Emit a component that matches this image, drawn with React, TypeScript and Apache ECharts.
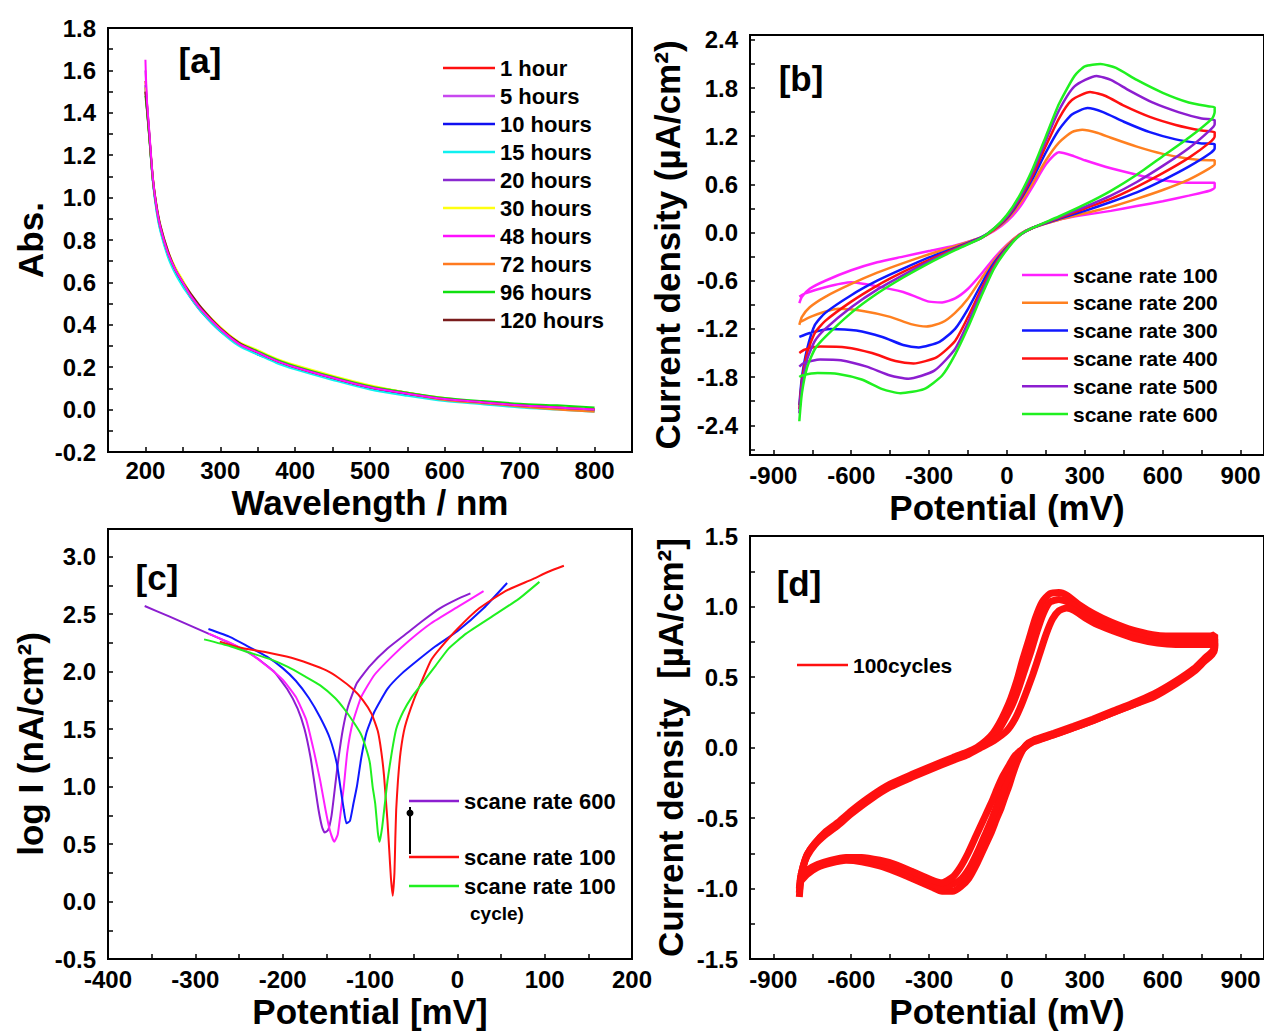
import React, { useEffect, useRef } from "react";
import * as echarts from "echarts";

// ---------------- Panel [a] : UV-Vis absorbance ----------------
const wavelength = [200, 202, 205, 210, 215, 220, 230, 240, 250, 260, 275, 300, 325, 350, 375, 400, 450, 500, 550, 600, 650, 700, 750, 800];
const abs1h = [1.55, 1.45, 1.31, 1.09, 0.95, 0.86, 0.74, 0.66, 0.6, 0.54, 0.47, 0.38, 0.31, 0.27, 0.23, 0.2, 0.15, 0.11, 0.08, 0.05, 0.035, 0.02, 0.01, 0.0];
const abs5h = [1.6, 1.45, 1.31, 1.08, 0.95, 0.85, 0.74, 0.66, 0.6, 0.54, 0.47, 0.38, 0.31, 0.27, 0.23, 0.2, 0.15, 0.105, 0.075, 0.05, 0.035, 0.02, 0.01, 0.0];
const abs10h = [1.52, 1.43, 1.3, 1.08, 0.94, 0.85, 0.73, 0.65, 0.59, 0.53, 0.46, 0.37, 0.31, 0.26, 0.23, 0.195, 0.145, 0.1, 0.07, 0.045, 0.03, 0.015, 0.005, -0.005];
const abs15h = [1.5, 1.42, 1.29, 1.07, 0.93, 0.84, 0.72, 0.64, 0.58, 0.53, 0.46, 0.37, 0.3, 0.26, 0.22, 0.19, 0.14, 0.095, 0.065, 0.04, 0.025, 0.01, 0.0, -0.01];
const abs20h = [1.53, 1.44, 1.3, 1.08, 0.95, 0.86, 0.74, 0.66, 0.6, 0.54, 0.47, 0.38, 0.31, 0.27, 0.23, 0.2, 0.15, 0.105, 0.075, 0.05, 0.035, 0.02, 0.01, 0.0];
const abs30h = [1.52, 1.43, 1.3, 1.09, 0.96, 0.87, 0.75, 0.67, 0.61, 0.55, 0.48, 0.39, 0.32, 0.28, 0.24, 0.21, 0.16, 0.115, 0.08, 0.055, 0.035, 0.02, 0.01, 0.0];
const abs48h = [1.65, 1.46, 1.32, 1.09, 0.95, 0.86, 0.74, 0.66, 0.6, 0.54, 0.47, 0.38, 0.31, 0.27, 0.23, 0.2, 0.15, 0.105, 0.075, 0.05, 0.035, 0.02, 0.01, 0.0];
const abs72h = [1.5, 1.42, 1.29, 1.08, 0.95, 0.86, 0.74, 0.66, 0.6, 0.54, 0.47, 0.38, 0.31, 0.27, 0.23, 0.2, 0.15, 0.105, 0.075, 0.045, 0.03, 0.015, 0.0, -0.01];
const abs96h = [1.48, 1.41, 1.29, 1.08, 0.95, 0.86, 0.74, 0.66, 0.6, 0.54, 0.47, 0.38, 0.315, 0.275, 0.235, 0.205, 0.155, 0.11, 0.08, 0.055, 0.04, 0.028, 0.02, 0.01];
const abs120h = [1.5, 1.42, 1.3, 1.09, 0.96, 0.87, 0.75, 0.66, 0.6, 0.55, 0.48, 0.385, 0.315, 0.27, 0.23, 0.2, 0.15, 0.105, 0.075, 0.05, 0.035, 0.02, 0.01, 0.0];
const aNames = ["1 hour", "5 hours", "10 hours", "15 hours", "20 hours", "30 hours", "48 hours", "72 hours", "96 hours", "120 hours"];
const aValues = [abs1h, abs5h, abs10h, abs15h, abs20h, abs30h, abs48h, abs72h, abs96h, abs120h];
const aXTicks = [200, 250, 300, 350, 400, 450, 500, 550, 600, 650, 700, 750, 800];
const aXLabels = [200, 300, 400, 500, 600, 700, 800];
const aYTicks = [-0.2, -0.1, 0, 0.1, 0.2, 0.3, 0.4, 0.5, 0.6, 0.7, 0.8, 0.9, 1.0, 1.1, 1.2, 1.3, 1.4, 1.5, 1.6, 1.7, 1.8];
const aYLabels = [-0.2, 0, 0.2, 0.4, 0.6, 0.8, 1.0, 1.2, 1.4, 1.6, 1.8];

// ---------------- Panel [b] : CV at different scan rates ----------------
const cvRate100 = [[-800, -0.88], [-790, -0.8], [-760, -0.7], [-700, -0.6], [-600, -0.47], [-500, -0.37], [-400, -0.3], [-300, -0.23], [-200, -0.16], [-100, -0.06], [-50, 0.02], [0, 0.14], [50, 0.32], [100, 0.58], [150, 0.85], [200, 1.0], [250, 0.96], [300, 0.9], [400, 0.8], [500, 0.72], [600, 0.65], [700, 0.62], [780, 0.62], [800, 0.62],
  [800, 0.56], [780, 0.52], [700, 0.46], [600, 0.39], [500, 0.33], [400, 0.27], [300, 0.22], [200, 0.16], [100, 0.06], [50, -0.02], [0, -0.15], [-50, -0.32], [-100, -0.52], [-150, -0.7], [-200, -0.82], [-250, -0.87], [-300, -0.86], [-350, -0.8], [-400, -0.74], [-500, -0.67], [-600, -0.62], [-700, -0.68], [-780, -0.76], [-800, -0.8]];
const cvRate200 = [[-800, -1.15], [-790, -1.05], [-760, -0.93], [-700, -0.8], [-600, -0.64], [-500, -0.5], [-400, -0.38], [-300, -0.27], [-200, -0.17], [-100, -0.06], [-50, 0.03], [0, 0.16], [50, 0.36], [100, 0.62], [150, 0.9], [200, 1.12], [250, 1.25], [290, 1.28], [350, 1.24], [400, 1.18], [500, 1.07], [600, 0.98], [700, 0.92], [780, 0.9], [800, 0.9],
  [800, 0.85], [780, 0.8], [700, 0.66], [600, 0.53], [500, 0.42], [400, 0.32], [300, 0.24], [200, 0.16], [100, 0.06], [50, -0.02], [0, -0.16], [-50, -0.35], [-100, -0.58], [-150, -0.82], [-200, -1.0], [-250, -1.12], [-310, -1.17], [-370, -1.14], [-450, -1.05], [-550, -0.98], [-650, -0.95], [-750, -1.04], [-800, -1.12]];
const cvRate300 = [[-800, -2.15], [-790, -1.8], [-770, -1.45], [-740, -1.15], [-700, -1.0], [-600, -0.78], [-500, -0.6], [-400, -0.45], [-300, -0.31], [-200, -0.19], [-100, -0.06], [-50, 0.04], [0, 0.18], [50, 0.4], [100, 0.68], [150, 1.0], [200, 1.28], [250, 1.47], [310, 1.55], [370, 1.5], [450, 1.38], [550, 1.25], [650, 1.16], [750, 1.11], [800, 1.1],
  [800, 1.05], [780, 0.98], [700, 0.82], [600, 0.65], [500, 0.5], [400, 0.38], [300, 0.27], [200, 0.17], [100, 0.06], [50, -0.03], [0, -0.18], [-50, -0.38], [-100, -0.65], [-150, -0.95], [-200, -1.2], [-260, -1.36], [-340, -1.43], [-400, -1.4], [-480, -1.3], [-580, -1.22], [-680, -1.2], [-760, -1.25], [-800, -1.3]];
const cvRate400 = [[-800, -2.2], [-790, -1.85], [-770, -1.5], [-740, -1.25], [-700, -1.1], [-600, -0.86], [-500, -0.66], [-400, -0.49], [-300, -0.34], [-200, -0.2], [-100, -0.07], [-50, 0.04], [0, 0.19], [50, 0.42], [100, 0.72], [150, 1.08], [200, 1.42], [250, 1.65], [320, 1.75], [380, 1.7], [450, 1.58], [550, 1.44], [650, 1.34], [750, 1.27], [800, 1.25],
  [800, 1.2], [780, 1.12], [700, 0.93], [600, 0.74], [500, 0.57], [400, 0.42], [300, 0.3], [200, 0.18], [100, 0.06], [50, -0.03], [0, -0.19], [-50, -0.41], [-100, -0.71], [-150, -1.05], [-200, -1.35], [-270, -1.55], [-360, -1.63], [-430, -1.6], [-520, -1.5], [-620, -1.43], [-720, -1.42], [-780, -1.46], [-800, -1.5]];
const cvRate500 = [[-800, -2.25], [-790, -1.9], [-770, -1.58], [-740, -1.35], [-700, -1.2], [-600, -0.93], [-500, -0.71], [-400, -0.53], [-300, -0.36], [-200, -0.21], [-100, -0.07], [-50, 0.05], [0, 0.2], [50, 0.44], [100, 0.76], [150, 1.15], [200, 1.52], [260, 1.82], [345, 1.95], [400, 1.9], [470, 1.77], [560, 1.62], [660, 1.5], [750, 1.42], [800, 1.4],
  [800, 1.35], [780, 1.27], [700, 1.05], [600, 0.83], [500, 0.63], [400, 0.46], [300, 0.32], [200, 0.19], [100, 0.06], [50, -0.03], [0, -0.2], [-50, -0.43], [-100, -0.75], [-150, -1.12], [-200, -1.45], [-280, -1.72], [-380, -1.82], [-450, -1.78], [-540, -1.67], [-640, -1.59], [-720, -1.58], [-780, -1.62], [-800, -1.67]];
const cvRate600 = [[-800, -2.35], [-790, -2.0], [-770, -1.68], [-740, -1.45], [-700, -1.3], [-600, -1.0], [-500, -0.76], [-400, -0.56], [-300, -0.38], [-200, -0.22], [-100, -0.07], [-50, 0.05], [0, 0.22], [50, 0.47], [100, 0.8], [150, 1.2], [200, 1.6], [260, 1.95], [300, 2.07], [360, 2.1], [420, 2.05], [500, 1.9], [600, 1.74], [700, 1.62], [780, 1.57], [800, 1.56],
  [800, 1.5], [790, 1.42], [700, 1.18], [600, 0.95], [500, 0.72], [400, 0.52], [300, 0.35], [200, 0.2], [100, 0.06], [50, -0.03], [0, -0.21], [-50, -0.45], [-100, -0.8], [-150, -1.18], [-200, -1.52], [-250, -1.78], [-320, -1.95], [-410, -2.0], [-480, -1.95], [-560, -1.83], [-650, -1.76], [-730, -1.75], [-790, -1.78], [-800, -1.8]];
const bNames = ["scane rate 100", "scane rate 200", "scane rate 300", "scane rate 400", "scane rate 500", "scane rate 600"];
const bValues = [cvRate100, cvRate200, cvRate300, cvRate400, cvRate500, cvRate600];
const bXTicks = [-900, -750, -600, -450, -300, -150, 0, 150, 300, 450, 600, 750, 900];
const bXLabels = [-900, -600, -300, 0, 300, 600, 900];
const bYTicks = [-2.7, -2.4, -2.1, -1.8, -1.5, -1.2, -0.9, -0.6, -0.3, 0, 0.3, 0.6, 0.9, 1.2, 1.5, 1.8, 2.1, 2.4];
const bYLabels = [-2.4, -1.8, -1.2, -0.6, 0, 0.6, 1.2, 1.8, 2.4];

// ---------------- Panel [c] : Tafel plots ----------------
const tafel600 = [[-358, 2.57], [-330, 2.48], [-300, 2.38], [-270, 2.28], [-250, 2.21], [-230, 2.12], [-210, 2.0], [-195, 1.85], [-183, 1.68], [-175, 1.5], [-168, 1.25], [-163, 1.0], [-159, 0.8], [-155, 0.65], [-152, 0.6], [-148, 0.62], [-144, 0.75], [-140, 1.0], [-136, 1.25], [-131, 1.5], [-125, 1.7], [-115, 1.9], [-100, 2.05], [-80, 2.2], [-60, 2.32], [-40, 2.44], [-20, 2.55], [0, 2.63], [15, 2.68]];
const tafelMagenta = [[-285, 2.33], [-260, 2.25], [-240, 2.17], [-220, 2.06], [-200, 1.93], [-185, 1.78], [-173, 1.58], [-164, 1.3], [-157, 1.05], [-151, 0.8], [-146, 0.62], [-141, 0.52], [-137, 0.58], [-134, 0.75], [-130, 1.0], [-126, 1.3], [-120, 1.55], [-110, 1.78], [-95, 1.97], [-75, 2.13], [-55, 2.27], [-30, 2.42], [0, 2.56], [30, 2.7]];
const tafelBlue = [[-285, 2.37], [-260, 2.3], [-240, 2.22], [-218, 2.13], [-200, 2.03], [-185, 1.92], [-170, 1.77], [-157, 1.6], [-146, 1.42], [-138, 1.2], [-134, 1.0], [-130, 0.8], [-127, 0.68], [-123, 0.7], [-119, 0.85], [-115, 1.0], [-110, 1.25], [-104, 1.47], [-95, 1.65], [-80, 1.85], [-64, 1.98], [-45, 2.1], [-25, 2.22], [0, 2.35], [30, 2.55], [57, 2.77]];
const tafel100 = [[-272, 2.26], [-250, 2.21], [-220, 2.17], [-190, 2.12], [-170, 2.07], [-150, 2.01], [-135, 1.94], [-120, 1.85], [-108, 1.75], [-98, 1.63], [-91, 1.48], [-87, 1.3], [-84, 1.1], [-82, 0.9], [-80, 0.7], [-78, 0.45], [-76, 0.2], [-74, 0.05], [-72, 0.25], [-71, 0.55], [-70, 0.8], [-68, 1.05], [-65, 1.3], [-60, 1.52], [-50, 1.75], [-40, 1.93], [-30, 2.1], [-20, 2.2], [0, 2.37], [25, 2.55], [55, 2.7], [85, 2.8], [105, 2.87], [122, 2.92]];
const tafel100cycle = [[-290, 2.28], [-260, 2.22], [-240, 2.17], [-215, 2.11], [-194, 2.04], [-175, 1.96], [-157, 1.88], [-140, 1.77], [-129, 1.67], [-118, 1.55], [-110, 1.45], [-104, 1.32], [-100, 1.2], [-97, 1.0], [-94, 0.85], [-91, 0.6], [-89, 0.52], [-86, 0.65], [-83, 0.85], [-80, 1.05], [-75, 1.3], [-70, 1.5], [-62, 1.65], [-52, 1.78], [-40, 1.9], [-25, 2.05], [-10, 2.2], [10, 2.33], [40, 2.48], [70, 2.63], [94, 2.78]];
const cNames = ["scane rate 600", "intermediate 1", "intermediate 2", "scane rate 100", "scane rate 100 cycle"];
const cValues = [tafel600, tafelMagenta, tafelBlue, tafel100, tafel100cycle];
const cLegendNames = ["scane rate 600", "scane rate 100", "scane rate 100"];
const cXTicks = [-400, -350, -300, -250, -200, -150, -100, -50, 0, 50, 100, 150, 200];
const cXLabels = [-400, -300, -200, -100, 0, 100, 200];
const cYTicks = [-0.5, -0.25, 0, 0.25, 0.5, 0.75, 1.0, 1.25, 1.5, 1.75, 2.0, 2.25, 2.5, 2.75, 3.0];
const cYLabels = [-0.5, 0, 0.5, 1.0, 1.5, 2.0, 2.5, 3.0];

// ---------------- Panel [d] : 100 cycles ----------------
const cycleFirst = [[-800, -1.06], [-795, -0.95], [-785, -0.85], [-770, -0.76], [-740, -0.68], [-700, -0.6], [-650, -0.53], [-600, -0.45], [-520, -0.34], [-450, -0.26], [-365, -0.19], [-300, -0.14], [-207, -0.07], [-150, -0.03], [-116, 0.0], [-80, 0.05], [-54, 0.1], [-30, 0.17], [-8, 0.25], [15, 0.35], [39, 0.48], [60, 0.62], [85, 0.77], [110, 0.92], [135, 1.03], [165, 1.09], [200, 1.1], [230, 1.08], [280, 1.01], [333, 0.95], [400, 0.89], [488, 0.83], [560, 0.8], [612, 0.79], [700, 0.79], [783, 0.79], [800, 0.8],
  [800, 0.72], [790, 0.68], [760, 0.63], [721, 0.56], [650, 0.47], [566, 0.38], [480, 0.31], [411, 0.26], [330, 0.2], [256, 0.15], [180, 0.1], [101, 0.05], [75, 0.02], [54, -0.04], [35, -0.12], [20, -0.2], [8, -0.27], [-10, -0.36], [-25, -0.44], [-39, -0.5], [-60, -0.6], [-85, -0.7], [-115, -0.82], [-148, -0.93], [-180, -0.99], [-210, -1.02], [-250, -1.02], [-290, -0.99], [-365, -0.93], [-430, -0.88], [-490, -0.84], [-560, -0.81], [-620, -0.8], [-680, -0.82], [-730, -0.85], [-770, -0.9], [-800, -0.96]];
const cycleMid = [[-800, -1.03], [-795, -0.93], [-785, -0.84], [-770, -0.76], [-740, -0.68], [-700, -0.61], [-650, -0.54], [-600, -0.46], [-520, -0.35], [-450, -0.27], [-365, -0.2], [-300, -0.15], [-207, -0.08], [-150, -0.04], [-108, 0.0], [-65, 0.05], [-30, 0.13], [-5, 0.21], [20, 0.3], [45, 0.42], [70, 0.56], [92, 0.68], [115, 0.82], [140, 0.95], [165, 1.03], [200, 1.05], [235, 1.03], [280, 0.97], [340, 0.91], [410, 0.86], [495, 0.8], [570, 0.77], [630, 0.76], [710, 0.76], [783, 0.76], [800, 0.77],
  [800, 0.71], [790, 0.67], [760, 0.62], [721, 0.55], [650, 0.46], [566, 0.37], [480, 0.3], [411, 0.25], [330, 0.19], [256, 0.14], [180, 0.09], [101, 0.045], [75, 0.015], [54, -0.03], [32, -0.09], [15, -0.16], [-2, -0.24], [-20, -0.33], [-38, -0.41], [-57, -0.5], [-80, -0.6], [-108, -0.72], [-140, -0.84], [-175, -0.93], [-210, -0.97], [-250, -0.99], [-290, -0.97], [-365, -0.9], [-430, -0.85], [-490, -0.82], [-560, -0.8], [-620, -0.79], [-680, -0.81], [-730, -0.84], [-770, -0.88], [-800, -0.93]];
const cycleLast = [[-800, -1.0], [-795, -0.92], [-785, -0.84], [-770, -0.77], [-740, -0.69], [-700, -0.62], [-650, -0.55], [-600, -0.47], [-520, -0.36], [-450, -0.28], [-365, -0.21], [-300, -0.16], [-207, -0.09], [-150, -0.05], [-100, 0.0], [-50, 0.05], [0, 0.12], [30, 0.2], [55, 0.3], [80, 0.42], [100, 0.52], [125, 0.66], [150, 0.8], [175, 0.91], [200, 0.97], [230, 0.99], [260, 0.97], [300, 0.92], [350, 0.87], [420, 0.82], [500, 0.77], [580, 0.74], [650, 0.73], [720, 0.73], [783, 0.73], [800, 0.74],
  [800, 0.7], [790, 0.66], [760, 0.61], [721, 0.54], [650, 0.45], [566, 0.36], [480, 0.3], [411, 0.25], [330, 0.19], [256, 0.14], [180, 0.09], [101, 0.04], [75, 0.01], [54, -0.02], [30, -0.06], [10, -0.12], [-15, -0.2], [-35, -0.28], [-55, -0.37], [-75, -0.45], [-95, -0.53], [-120, -0.63], [-150, -0.75], [-180, -0.85], [-210, -0.92], [-250, -0.96], [-290, -0.94], [-365, -0.88], [-430, -0.83], [-490, -0.8], [-560, -0.78], [-620, -0.78], [-680, -0.8], [-730, -0.83], [-770, -0.87], [-800, -0.91]];
const dName = "100cycles";
const dValues = [cycleFirst, cycleMid, cycleLast];
const dYTicks = [-1.5, -1.25, -1.0, -0.75, -0.5, -0.25, 0, 0.25, 0.5, 0.75, 1.0, 1.25, 1.5];
const dYLabels = [-1.5, -1.0, -0.5, 0, 0.5, 1.0, 1.5];

// ---------------- styles ----------------
const FONT = "Liberation Sans, Arial, Helvetica, sans-serif";
const aColors = ["#ff1010", "#c848f0", "#1010f0", "#10f0f0", "#8a2ad0", "#ffff10", "#ff10ff", "#ff7a20", "#10e010", "#7a1c1c"];
const bColors = ["#ff20ff", "#ff8020", "#1018ff", "#ff1010", "#8c1ed0", "#20f020"];
const cColors = ["#8c1ed0", "#ff20ff", "#1018ff", "#ff1010", "#20f020"];
const cLegendColors = ["#8c1ed0", "#ff1010", "#20f020"];

function valueAxis(gi: number, min: number, max: number, ticks: number[], labels: number[], digits: number, name: string, gap: number, margin: number) {
  return {
    type: "value",
    gridIndex: gi,
    min,
    max,
    name,
    nameLocation: "middle",
    nameGap: gap,
    nameTextStyle: { color: "#000", fontFamily: FONT, fontWeight: "bold", fontSize: 35 },
    axisLine: { show: true, onZero: false, lineStyle: { color: "#000", width: 2 } },
    axisTick: { show: true, inside: true, length: 5, customValues: ticks, lineStyle: { color: "#000", width: 1.5 } },
    axisLabel: {
      customValues: labels,
      color: "#000",
      fontFamily: FONT,
      fontWeight: "bold",
      fontSize: 24,
      margin,
      formatter: (v: number) => v.toFixed(digits),
    },
    splitLine: { show: false },
  };
}

function lineSeries(name: string, data: any[], color: string, idx: number, width: number, smooth: number, z = 2) {
  return {
    type: "line",
    name,
    xAxisIndex: idx,
    yAxisIndex: idx,
    data,
    symbol: "none",
    showSymbol: false,
    smooth,
    z,
    lineStyle: { color, width },
    itemStyle: { color },
  };
}

function legendItems(names: string[], colors: string[], x1: number, x2: number, ys: number[], fontSize: number) {
  const out: any[] = [];
  names.forEach((n, i) => {
    out.push({ type: "line", shape: { x1, y1: ys[i], x2, y2: ys[i] }, style: { stroke: colors[i], lineWidth: 2.5 } });
    out.push({ type: "text", x: x2 + 5, y: ys[i], style: { text: n, fill: "#000", fontFamily: FONT, fontWeight: "bold", fontSize, verticalAlign: "middle", align: "left" } });
  });
  return out;
}

function panelTag(text: string, x: number, y: number) {
  return { type: "text", x, y, style: { text, fill: "#000", fontFamily: FONT, fontWeight: "bold", fontSize: 35, align: "center", verticalAlign: "middle" } };
}

export default function App() {
  const ref = useRef<HTMLDivElement>(null);
  useEffect(() => {
    document.body.style.margin = "0";
    if (!ref.current) return;
    const chart = echarts.init(ref.current, undefined, { renderer: "svg" });

    const series: any[] = [];
    aValues.forEach((vals, i) => {
      series.push(lineSeries(aNames[i], wavelength.map((w, k) => [w, vals[k]]), aColors[i], 0, 2, 0.3, aNames[i] === "48 hours" ? 4 : 2));
    });
    bValues.forEach((vals, i) => series.push(lineSeries(bNames[i], vals, bColors[i], 1, 2.5, 0.2)));
    cValues.forEach((vals, i) => series.push(lineSeries(cNames[i], vals, cColors[i], 2, 2, 0.15)));
    dValues.forEach((vals) => series.push(lineSeries(dName, vals, "#ff1010", 3, 7, 0.2)));

    const aLegendYs = aNames.map((_, i) => 68 + i * 28);
    const bLegendYs = bNames.map((_, i) => 275 + i * 27.8);

    const graphic: any[] = [
      ...legendItems(aNames, aColors, 443, 495, aLegendYs, 22),
      ...legendItems(bNames, bColors, 1022, 1068, bLegendYs, 21),
      ...legendItems(cLegendNames, cLegendColors, 409, 459, [801, 857, 886], 22),
      { type: "text", x: 470, y: 913, style: { text: "cycle)", fill: "#000", fontFamily: FONT, fontWeight: "bold", fontSize: 19, verticalAlign: "middle", align: "left" } },
      { type: "line", shape: { x1: 410, y1: 854, x2: 410, y2: 807 }, style: { stroke: "#000", lineWidth: 2 } },
      { type: "circle", shape: { cx: 410, cy: 813, r: 3.5 }, style: { fill: "#000" } },
      ...legendItems([dName], ["#ff1010"], 797, 848, [665], 21),
      panelTag("[a]", 200, 60),
      panelTag("[b]", 801, 78),
      panelTag("[c]", 157, 577),
      panelTag("[d]", 799, 583),
    ];

    chart.setOption({
      animation: false,
      backgroundColor: "#fff",
      grid: [
        { left: 108, top: 28, width: 524, height: 424, show: true, borderColor: "#000", borderWidth: 2, backgroundColor: "transparent" },
        { left: 750, top: 35, width: 516, height: 420, show: true, borderColor: "#000", borderWidth: 2, backgroundColor: "transparent" },
        { left: 108, top: 529, width: 524, height: 430, show: true, borderColor: "#000", borderWidth: 2, backgroundColor: "transparent" },
        { left: 750, top: 536, width: 516, height: 423, show: true, borderColor: "#000", borderWidth: 2, backgroundColor: "transparent" },
      ],
      xAxis: [
        valueAxis(0, 150, 850, aXTicks, aXLabels, 0, "Wavelength / nm", 33, 6),
        valueAxis(1, -990, 990, bXTicks, bXLabels, 0, "Potential (mV)", 35, 8),
        valueAxis(2, -400, 200, cXTicks, cXLabels, 0, "Potential [mV]", 35, 8),
        valueAxis(3, -990, 990, bXTicks, bXLabels, 0, "Potential (mV)", 35, 8),
      ],
      yAxis: [
        valueAxis(0, -0.2, 1.8, aYTicks, aYLabels, 1, "Abs.", 60, 12),
        valueAxis(1, -2.77, 2.46, bYTicks, bYLabels, 1, "Current density (µA/cm²)", 65, 12),
        valueAxis(2, -0.5, 3.24, cYTicks, cYLabels, 1, "log I (nA/cm²)", 60, 12),
        valueAxis(3, -1.5, 1.5, dYTicks, dYLabels, 1, "Current density  [µA/cm²]", 62, 12),
      ],
      series,
      graphic,
    });
    return () => chart.dispose();
  }, []);
  return <div ref={ref} style={{ width: 1264, height: 1032 }} />;
}
